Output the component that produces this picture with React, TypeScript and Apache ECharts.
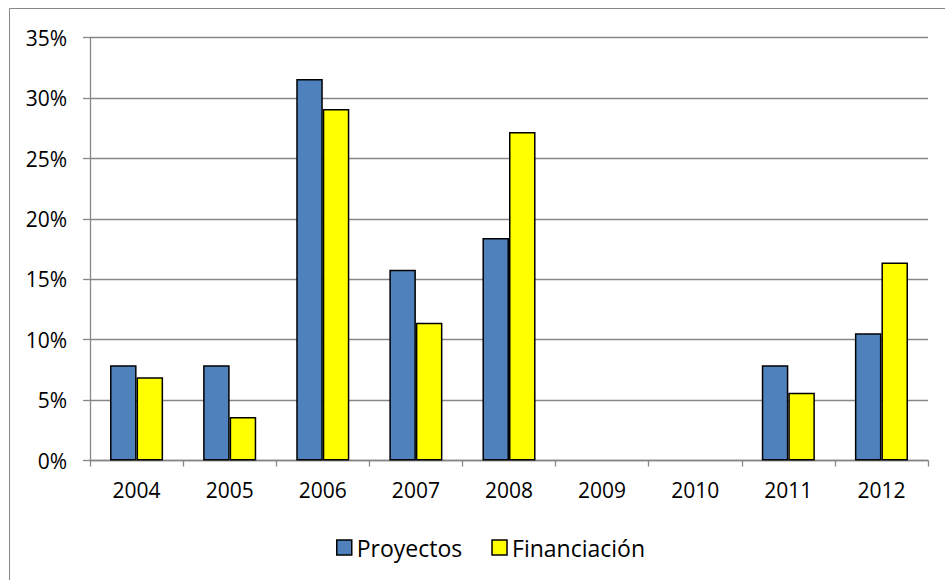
import React, { useEffect, useRef } from "react";
import * as echarts from "echarts";

const years = ["2004", "2005", "2006", "2007", "2008", "2009", "2010", "2011", "2012"];
const proyectos = [7.89, 7.89, 31.58, 15.79, 18.42, 0, 0, 7.89, 10.53];
const financiacion = [6.9, 3.6, 29.1, 11.4, 27.2, 0, 0, 5.6, 16.4];
const seriesNames = ["Proyectos", "Financiación"];

const FONT = "'Open Sans', 'Noto Sans', sans-serif";
const GRAY = "#878787";

const toItems = (arr: number[]) =>
  arr.map((v) => (v === 0 ? { value: v, itemStyle: { borderWidth: 0 } } : v));

export default function App() {
  const ref = useRef<HTMLDivElement>(null);
  useEffect(() => {
    if (!ref.current) return;
    const chart = echarts.init(ref.current, null, { renderer: "svg" });
    chart.setOption({
      animation: false,
      backgroundColor: "#ffffff",
      textStyle: { fontFamily: FONT },
      graphic: [
        {
          type: "rect",
          shape: { x: 9.5, y: 8.5, width: 960, height: 600 },
          style: { fill: "none", stroke: GRAY, lineWidth: 1 },
          silent: true,
        },
      ],
      grid: { left: 90, right: 17, top: 37.7, bottom: 119.5, containLabel: false },
      legend: {
        left: 331,
        top: 531,
        itemWidth: 15,
        itemHeight: 15,
        itemGap: 29,
        icon: "rect",
        itemStyle: { borderColor: "#000", borderWidth: 1.5 },
        textStyle: { fontFamily: FONT, fontSize: 23, color: "#000" },
        data: seriesNames,
      },
      xAxis: {
        type: "category",
        data: years,
        axisLine: { lineStyle: { color: GRAY, width: 1.3 } },
        axisTick: { show: true, inside: false, length: 6, alignWithLabel: false, lineStyle: { color: GRAY, width: 1.3 } },
        axisLabel: { fontFamily: FONT, fontSize: 21, color: "#000", margin: 19 },
        splitLine: { show: false },
      },
      yAxis: {
        type: "value",
        min: 0,
        max: 35,
        interval: 5,
        axisLine: { show: true, lineStyle: { color: GRAY, width: 1.3 } },
        axisTick: { show: true, length: 7, lineStyle: { color: GRAY, width: 1.3 } },
        axisLabel: { fontFamily: FONT, fontSize: 21, color: "#000", margin: 23, formatter: "{value}%" },
        splitLine: { show: true, lineStyle: { color: GRAY, width: 1.3 } },
      },
      series: [
        {
          name: seriesNames[0],
          type: "bar",
          data: toItems(proyectos),
          barGap: "0%",
          barCategoryGap: "43%",
          itemStyle: { color: "#4F81BD", borderColor: "#000", borderWidth: 1.5 },
        },
        {
          name: seriesNames[1],
          type: "bar",
          data: toItems(financiacion),
          barGap: "0%",
          barCategoryGap: "43%",
          itemStyle: { color: "#FFFF00", borderColor: "#000", borderWidth: 1.5 },
        },
      ],
    });
    return () => chart.dispose();
  }, []);
  return (
    <div
      ref={ref}
      style={{ position: "fixed", left: 0, top: 0, width: 945, height: 580 }}
    />
  );
}
